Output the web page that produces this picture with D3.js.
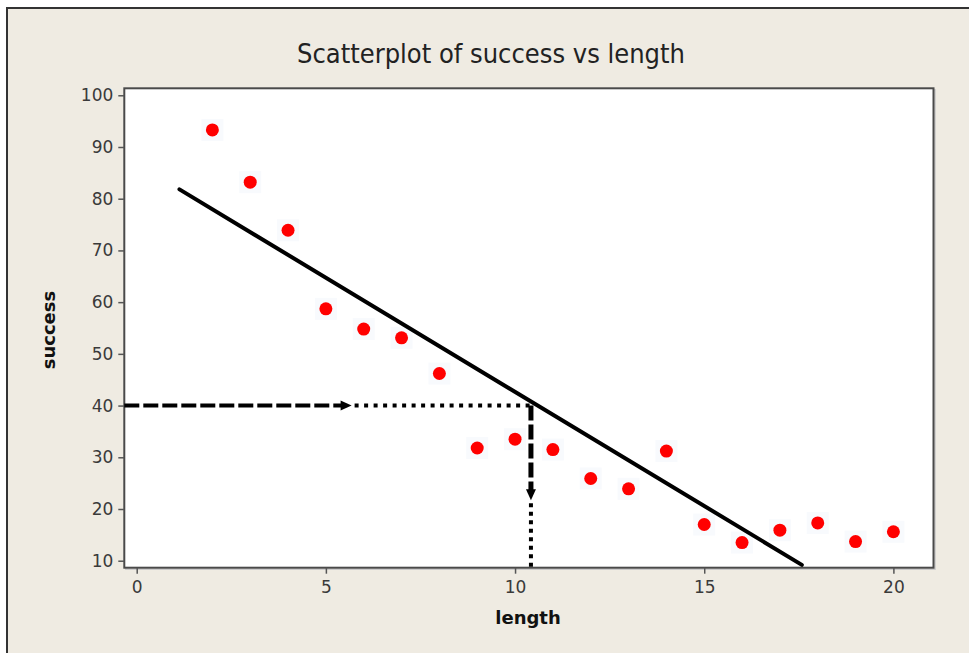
<!DOCTYPE html>
<html lang="en">
<head>
    <meta charset="UTF-8">
    <title>Scatterplot of success vs length</title>
    <script src="https://d3js.org/d3.v7.min.js"></script>
    <style>
        body {
            margin: 0;
            background: #ffffff;
        }
        .tick text {
            font-family: "DejaVu Sans", sans-serif;
            font-size: 17px;
            fill: #3a3a3a;
        }
        .axis-title {
            font-family: "DejaVu Sans", sans-serif;
            font-weight: bold;
            font-size: 18px;
            fill: #111;
        }
    </style>
</head>
<body>
    <div id="chart"></div>

    <script>
        // data
        const lengths = [2, 3, 4, 5, 6, 7, 8, 9, 10, 11, 12, 13, 14, 15, 16, 17, 18, 19, 20];
        const success = [93.3, 83.2, 73.9, 58.7, 54.8, 53.1, 46.2, 31.8, 33.5, 31.5, 25.9, 23.9, 31.2, 17.0, 13.5, 15.9, 17.3, 13.7, 15.6];

        // fitted line end points (length, success)
        const fitLength = [1.13, 17.58];
        const fitSuccess = [81.8, 9.2];

        // reading the line at success = 40
        const readSuccess = 40;
        const readLength = 10.42;
        const arrowStopX = 5.68;   // where the horizontal dashes end
        const arrowStopY = 21.7;   // where the vertical dashes end

        const xTicks = [0, 5, 10, 15, 20];
        const yTicks = [10, 20, 30, 40, 50, 60, 70, 80, 90, 100];

        const width = 969, height = 655;
        const plot = { left: 124.3, right: 933.5, top: 88.3, bottom: 567.7 };

        const svg = d3.select("#chart")
            .append("svg")
            .attr("width", width)
            .attr("height", height);

        // panel background with the dark top/left edge
        svg.append("rect")
            .attr("x", 7).attr("y", 8)
            .attr("width", width - 7).attr("height", height - 10)
            .attr("fill", "#efebe2");
        svg.append("path")
            .attr("d", `M7,${height - 2}V8H${width}`)
            .attr("fill", "none")
            .attr("stroke", "#333")
            .attr("stroke-width", 2);

        const x = d3.scaleLinear()
            .domain([-0.328, 21.06])
            .range([plot.left, plot.right]);

        const y = d3.scaleLinear()
            .domain([8.65, 101.35])
            .range([plot.bottom, plot.top]);

        // plot area
        svg.append("rect")
            .attr("x", plot.left + 1.5).attr("y", plot.top + 1.5)
            .attr("width", plot.right - plot.left)
            .attr("height", plot.bottom - plot.top)
            .attr("fill", "none")
            .attr("stroke", "#c9c9c9")
            .attr("stroke-width", 1.5);
        svg.append("rect")
            .attr("x", plot.left).attr("y", plot.top)
            .attr("width", plot.right - plot.left)
            .attr("height", plot.bottom - plot.top)
            .attr("fill", "#fff")
            .attr("stroke", "#4a4a4a")
            .attr("stroke-width", 2);

        // axes
        const xAxis = svg.append("g")
            .attr("transform", `translate(0,${plot.bottom})`)
            .call(d3.axisBottom(x).tickValues(xTicks).tickSize(6).tickPadding(5));
        const yAxis = svg.append("g")
            .attr("transform", `translate(${plot.left},0)`)
            .call(d3.axisLeft(y).tickValues(yTicks).tickSize(6).tickPadding(5));

        [xAxis, yAxis].forEach(a => {
            a.select(".domain").remove();
            a.selectAll(".tick line").attr("stroke", "#555").attr("stroke-width", 1.5);
        });
        xAxis.selectAll(".tick text").attr("dy", "0.85em");

        // title
        svg.append("text")
            .attr("x", 491)
            .attr("y", 63)
            .attr("text-anchor", "middle")
            .style("font-family", "'DejaVu Sans Condensed', 'DejaVu Sans', sans-serif")
            .style("font-size", "27px")
            .style("fill", "#222")
            .text("Scatterplot of success vs length");

        svg.append("text")
            .attr("class", "axis-title")
            .attr("x", 528)
            .attr("y", 624)
            .attr("text-anchor", "middle")
            .text("length");

        svg.append("text")
            .attr("class", "axis-title")
            .attr("transform", `translate(55,${(plot.top + plot.bottom) / 2 + 2}) rotate(-90)`)
            .attr("text-anchor", "middle")
            .text("success");

        // points
        const pts = lengths.map((d, i) => ({ x: d, y: success[i] }));

        svg.append("g")
            .selectAll("rect")
            .data(pts)
            .join("rect")
            .attr("x", d => x(d.x) - 11)
            .attr("y", d => y(d.y) - 11)
            .attr("width", 22)
            .attr("height", 22)
            .attr("fill", "#f8fafd");

        svg.append("g")
            .selectAll("circle")
            .data(pts)
            .join("circle")
            .attr("cx", d => x(d.x))
            .attr("cy", d => y(d.y))
            .attr("r", 6.5)
            .attr("fill", "#ff0000");

        // fitted line
        svg.append("line")
            .attr("x1", x(fitLength[0])).attr("y1", y(fitSuccess[0]))
            .attr("x2", x(fitLength[1])).attr("y2", y(fitSuccess[1]))
            .attr("stroke", "#000")
            .attr("stroke-width", 4)
            .attr("stroke-linecap", "round");

        // reading arrows
        const hx0 = plot.left, hx1 = x(arrowStopX), hx2 = x(readLength);
        const hy = y(readSuccess);
        const vy0 = hy, vy1 = y(arrowStopY), vy2 = plot.bottom;

        svg.append("line")
            .attr("x1", hx0).attr("y1", hy).attr("x2", hx1 - 8).attr("y2", hy)
            .attr("stroke", "#000").attr("stroke-width", 4)
            .attr("stroke-dasharray", "15,4");
        svg.append("line")
            .attr("x1", hx1 + 3).attr("y1", hy).attr("x2", hx2).attr("y2", hy)
            .attr("stroke", "#000").attr("stroke-width", 4)
            .attr("stroke-dasharray", "4,5.5");
        svg.append("path")
            .attr("d", `M${hx1},${hy}L${hx1 - 11},${hy - 5}L${hx1 - 11},${hy + 5}Z`)
            .attr("fill", "#000");

        svg.append("line")
            .attr("x1", hx2).attr("y1", vy0).attr("x2", hx2).attr("y2", vy1 - 9)
            .attr("stroke", "#000").attr("stroke-width", 5)
            .attr("stroke-dasharray", "15,4");
        svg.append("path")
            .attr("d", `M${hx2},${vy1}L${hx2 - 5},${vy1 - 11}L${hx2 + 5},${vy1 - 11}Z`)
            .attr("fill", "#000");
        svg.append("line")
            .attr("x1", hx2).attr("y1", vy1 + 3).attr("x2", hx2).attr("y2", vy2)
            .attr("stroke", "#000").attr("stroke-width", 4)
            .attr("stroke-dasharray", "4,4.5");
    </script>
</body>
</html>
